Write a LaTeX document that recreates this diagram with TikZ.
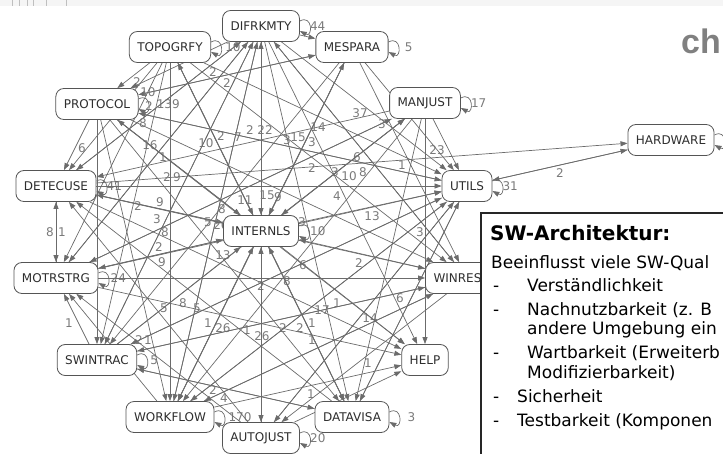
\documentclass[tikz,border=0pt]{standalone}
\usepackage{fontspec}
\setmainfont{DejaVu Sans}
\newfontfamily\headfont{Liberation Sans}
\usetikzlibrary{arrows.meta}
\pgfdeclarelayer{edges}
\pgfdeclarelayer{front}
\pgfsetlayers{edges,main,front}

\definecolor{edgegray}{HTML}{6B6B6B}
\definecolor{labelgray}{HTML}{7A7A7A}
\definecolor{nodeborder}{HTML}{555555}
\definecolor{nodetext}{HTML}{2E2E2E}
\definecolor{headgray}{HTML}{808080}

\tikzset{
  mod/.style={draw=nodeborder, line width=0.8pt, fill=white, rounded corners=8pt,
    minimum height=31pt, inner xsep=8pt, font=\fontsize{12}{12}\selectfont, text=nodetext},
  ed/.style={draw=edgegray, line width=0.7pt, -{Triangle[length=7pt,width=5pt]}},
  lbl/.style={font=\fontsize{12}{12}\selectfont, text=labelgray, inner sep=0pt},
  boxtext/.style={anchor=base west, inner sep=0pt, font=\fontsize{17}{17}\selectfont, text=black},
}

% dependency edge with its weight label
\newcommand{\dep}[4]{\draw[ed] (#1) -- (#2) node[lbl,at={(#3)}]{#4};}
% self dependency: small loop on the right side of a module
\newcommand{\selfloop}[3]{%
  \draw[ed] ([yshift=5pt]#1.east) .. controls +(13,-7) and +(13,7) .. ([yshift=-5pt]#1.east);
  \node[lbl,anchor=west] (#1loop) at ([xshift=#3pt]#1.east) {#2};}

\begin{document}
\begin{tikzpicture}[x=1pt,y=-1pt]
\useasboundingbox (0,0) rectangle (723,453);
\clip (0,0) rectangle (723,453);

% header strip
\fill[black!4] (0,0) rectangle (723,6);
\foreach \t in {12,19,27,33,46,66} \draw[black!25, line width=0.8pt] (\t,0) -- (\t,6);
\node[anchor=base west, inner sep=0pt, text=headgray, font=\headfont\bfseries\fontsize{34}{34}\selectfont] (head) at (681,53) {ch};

% modules
\node[mod] (DIF) at (261,26) {DIFRKMTY};
\node[mod] (TOP) at (170,47) {TOPOGRFY};
\node[mod] (MES) at (352,47) {MESPARA};
\node[mod] (PRO) at (97,104) {PROTOCOL};
\node[mod] (MAN) at (425,103) {MANJUST};
\node[mod] (HW)  at (671,140) {HARDWARE};
\node[mod] (DET) at (56,186) {DETECUSE};
\node[mod] (UTI) at (467,186) {UTILS};
\node[mod] (INT) at (261,231) {INTERNLS};
\node[mod] (MOT) at (56,278) {MOTRSTRG};
\node[mod, minimum width=83pt, text width=67pt, align=left] (WIN) at (467,278) {WINRES};
\node[mod] (SWI) at (97,360) {SWINTRAC};
\node[mod] (HLP) at (425,360) {HELP};
\node[mod] (WRK) at (170,417) {WORKFLOW};
\node[mod] (DAT) at (352,417) {DATAVISA};
\node[mod] (AUT) at (261,438) {AUTOJUST};

\begin{pgfonlayer}{edges}
% self dependencies
\selfloop{DIF}{44}{10}
\selfloop{TOP}{10}{14}
\selfloop{MES}{5}{16}
\selfloop{PRO}{139}{18}
\selfloop{MAN}{17}{10}
\selfloop{DET}{41}{10}
\selfloop{UTI}{31}{10}
\selfloop{INT}{10}{11}
\selfloop{MOT}{24}{12}
\selfloop{SWI}{5}{13}
\selfloop{WRK}{170}{14}
\selfloop{AUT}{20}{10}
\selfloop{DAT}{3}{18}
\draw[ed] ([yshift=5pt]HW.east) .. controls +(13,-7) and +(13,7) .. ([yshift=-5pt]HW.east);

% weighted dependencies
\dep{TOP}{PRO}{137,82}{2}
\dep{DET}{MOT}{50,232}{8}
\dep{MOT}{DET}{62,232}{1}
\dep{HW}{UTI}{560,173}{2}
\dep{MAN}{UTI}{437,150}{23}
\dep{PRO}{MES}{213,72}{2}
\dep{MES}{PRO}{227,83}{2}
\dep{DIF}{DET}{148,92}{10}
\dep{DET}{DIF}{149,106}{2}
\dep{TOP}{MOT}{143,123}{8}
\dep{PRO}{DET}{82,148}{6}
\dep{DIF}{MOT}{150,145}{16}
\dep{MOT}{DIF}{163,157}{1}
\dep{PRO}{INT}{167,177}{2}
\dep{DIF}{SWI}{177,177}{9}
\dep{TOP}{INT}{206,143}{10}
\dep{INT}{TOP}{221,136}{2}
\dep{MAN}{DET}{238,137}{7}
\dep{DIF}{INT}{250,130}{2}
\dep{INT}{DIF}{265,130}{22}
\dep{PRO}{UTI}{287,140}{3}
\dep{UTI}{PRO}{298,137}{15}
\dep{MES}{INT}{312,142}{3}
\dep{INT}{MES}{318,127}{14}
\dep{DIF}{UTI}{360,113}{37}
\dep{MOT}{MAN}{382,124}{3}
\dep{DIF}{WIN}{357,157}{6}
\dep{TOP}{WIN}{312,168}{2}
\dep{MAN}{INT}{349,176}{10}
\dep{INT}{MAN}{335,172}{3}
\dep{WIN}{DIF}{363,172}{8}
\dep{MES}{WIN}{402,165}{1}
\dep{DIF}{HLP}{337,196}{4}
\dep{INT}{UTI}{372,216}{13}
\dep{MAN}{HLP}{420,232}{3}
\dep{WIN}{INT}{359,263}{2}
\dep{MAN}{WRK}{303,265}{6}
\dep{UTI}{SWI}{287,281}{8}
\dep{MOT}{WIN}{261,286}{2}
\dep{TOP}{SWI}{138,206}{2}
\dep{DET}{INT}{160,202}{9}
\dep{INT}{DET}{157,219}{3}
\dep{TOP}{WRK}{165,232}{8}
\dep{MOT}{INT}{159,247}{2}
\dep{INT}{MOT}{162,262}{9}
\dep{MES}{SWI}{222,209}{8}
\dep{MAN}{MOT}{245,200}{11}
\dep{DET}{UTI}{267,195}{15}
\dep{PRO}{WIN}{278,197}{9}
\dep{DIF}{WRK}{208,222}{5}
\dep{WRK}{DIF}{221,225}{26}
\dep{PRO}{DAT}{223,255}{13}
\dep{DIF}{DAT}{298,222}{13}
\dep{SWI}{MOT}{69,323}{1}
\dep{AUT}{DET}{164,308}{5}
\dep{SWI}{INT}{183,303}{8}
\dep{DAT}{DET}{197,308}{5}
\dep{WRK}{INT}{208,323}{1}
\dep{INT}{WRK}{223,328}{26}
\dep{AUT}{INT}{247,330}{1}
\dep{INT}{AUT}{262,336}{26}
\dep{WIN}{SWI}{283,328}{2}
\dep{DAT}{INT}{300,328}{2}
\dep{INT}{DAT}{312,323}{1}
\dep{UTI}{WRK}{322,310}{17}
\dep{WRK}{UTI}{337,303}{1}
\dep{WIN}{WRK}{312,340}{1}
\dep{UTI}{AUT}{370,318}{14}
\dep{UTI}{DAT}{400,298}{6}
\dep{WIN}{AUT}{368,363}{1}
\dep{WRK}{HLP}{311,394}{1}
\dep{WRK}{MOT}{139,340}{2}
\dep{AUT}{MOT}{148,340}{1}
\dep{DAT}{SWI}{213,390}{2}
\dep{SWI}{DAT}{224,398}{4}

% further dependencies
\draw[ed] (DIF) -- (MES);
\draw[ed] (DIF) -- (PRO);
\draw[ed] (TOP) -- (DET);
\draw[ed] (TOP) -- (UTI);
\draw[ed] (TOP) -- (DAT);
\draw[ed] (MES) -- (UTI);
\draw[ed] (MES) -- (WRK);
\draw[ed] (PRO) -- (HLP);
\draw[ed] (PRO) -- (SWI);
\draw[ed] (PRO) -- (WRK);
\draw[ed] (SWI) -- (MAN);
\draw[ed] (SWI) -- (DIF);
\draw[ed] (MOT) -- (UTI);
\draw[ed] (DET) -- (WIN);
\draw[ed] (DET) -- (HW);
\draw[ed] (UTI) -- (HW);
\draw[ed] (SWI) -- (UTI);
\draw[ed] (AUT) -- (UTI);
\draw[ed] (DAT) -- (UTI);
\draw[ed] (INT) -- (HLP);
\draw[ed] (INT) -- (PRO);
\draw[ed] (MOT) -- (HLP);
\draw[ed] (DET) -- (HLP);
\draw[ed] (AUT) -- (HLP);
\draw[ed] (SWI) -- (WIN);
\draw[ed] (WRK) -- (WIN);
\draw[ed] (MAN) -- (DAT);
\end{pgfonlayer}

% note panel
\begin{pgfonlayer}{front}
\draw[black!85, line width=1.6pt, fill=white] (481,213) rectangle (760,480);
\node[boxtext, font=\bfseries\fontsize{20}{20}\selectfont] (ttl) at (490,240) {SW-Architektur:};
\node[boxtext] (t0) at (491,268) {Beeinflusst viele SW-Qual};
\node[boxtext] (d1) at (493,291) {-};
\node[boxtext] (t1) at (527,291) {Verständlichkeit};
\node[boxtext] (d2) at (493,315) {-};
\node[boxtext] (t2) at (527,315) {Nachnutzbarkeit (z. B};
\node[boxtext] (t2b) at (527,334) {andere Umgebung ein};
\node[boxtext] (d3) at (493,358) {-};
\node[boxtext] (t3) at (527,358) {Wartbarkeit (Erweiterb};
\node[boxtext] (t3b) at (527,378) {Modifizierbarkeit)};
\node[boxtext] (d4) at (493,402) {-};
\node[boxtext] (t4) at (517,402) {Sicherheit};
\node[boxtext] (d5) at (493,426) {-};
\node[boxtext] (t5) at (517,426) {Testbarkeit (Komponen};
\end{pgfonlayer}
\end{tikzpicture}
\end{document}
